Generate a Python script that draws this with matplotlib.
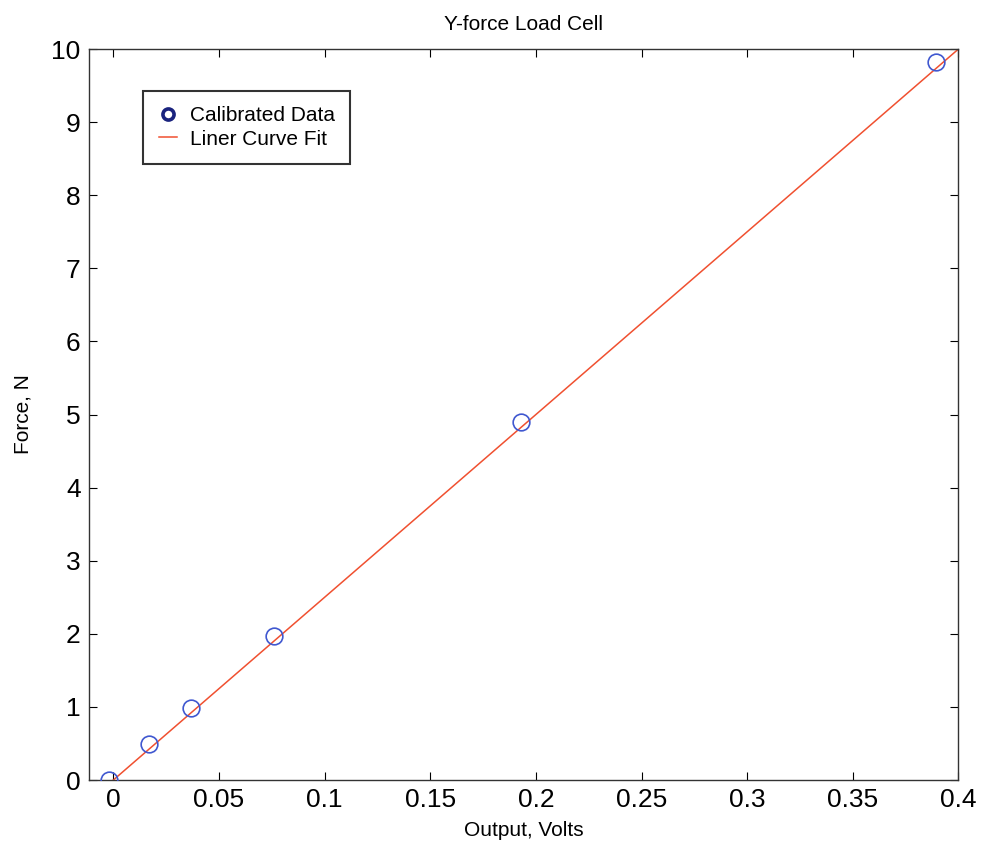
import matplotlib
matplotlib.use("Agg")
import matplotlib.pyplot as plt
import numpy as np

plt.rcParams["font.family"] = ["Liberation Sans", "DejaVu Sans"]

# calibrated data
volts = [-0.002, 0.0168, 0.0367, 0.0761, 0.193, 0.3895]
force = [0.0, 0.49, 0.98, 1.97, 4.90, 9.82]

# linear fit end points
fit_x = [0.0, 0.4]
fit_y = [0.0, 10.0]

fig = plt.figure(figsize=(9.84, 8.46), dpi=100)
ax = fig.add_axes([0.0905, 0.078, 0.8835, 0.864])

ax.plot(volts, force, linestyle="none", marker="o", markersize=12,
        markerfacecolor="none", markeredgecolor="#4058d0", markeredgewidth=1.2,
        label="Calibrated Data", zorder=3)
ax.plot(fit_x, fit_y, color="#f05030", linewidth=1.1, label="Liner Curve Fit", zorder=2)

ax.set_xlim(-0.0115, 0.4)
ax.set_ylim(0, 10)
ax.set_xticks(np.arange(0, 0.401, 0.05))
ax.set_xticklabels(["0", "0.05", "0.1", "0.15", "0.2", "0.25", "0.3", "0.35", "0.4"])
ax.set_yticks(range(0, 11))
ax.tick_params(direction="in", top=True, right=True, labelsize=19, length=6, pad=6)

for s in ax.spines.values():
    s.set_linewidth(1.0)
    s.set_color("#333333")

ax.set_title("Y-force Load Cell", fontsize=15, pad=14)
ax.set_xlabel("Output, Volts", fontsize=15, labelpad=6)
ax.set_ylabel("Force, N", fontsize=15, labelpad=14)

leg = ax.legend(loc="upper left", bbox_to_anchor=(0.062, 0.943), fontsize=15,
                frameon=True, fancybox=False, edgecolor="black",
                handlelength=0.9, handletextpad=0.6, borderpad=0.75,
                borderaxespad=0, labelspacing=0.2)
leg.get_frame().set_linewidth(1.5)
leg.legend_handles[0].set_markersize(8)
leg.legend_handles[0].set_markeredgecolor("#1a237e")
leg.legend_handles[0].set_markeredgewidth(2.6)

fig.savefig("out.png", dpi=100)
